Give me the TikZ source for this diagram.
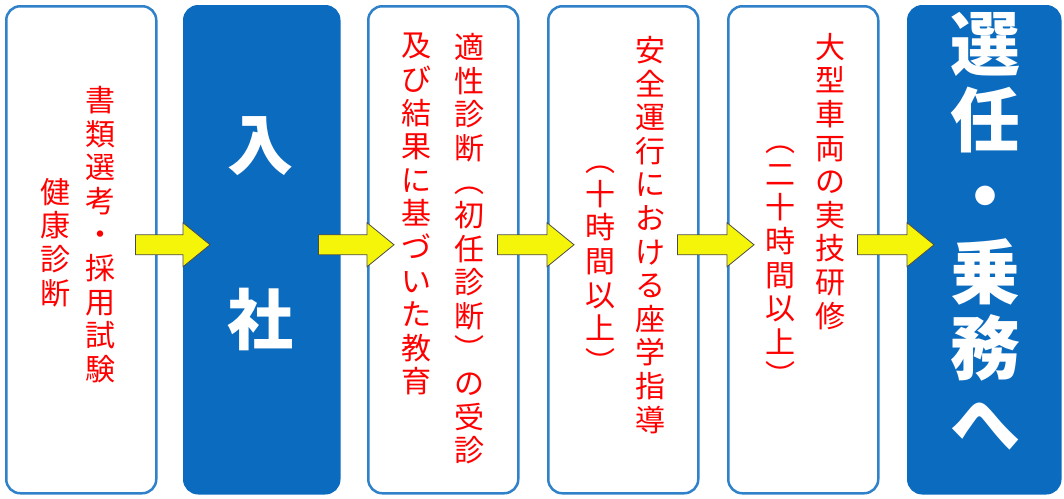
\documentclass[tikz,border=0pt]{standalone}
\usepackage{fontspec}
\setmainfont{Noto Sans CJK JP}
\usetikzlibrary{calc}
\definecolor{stepblue}{HTML}{0A6BBF}
\definecolor{arrowyellow}{HTML}{F5F50A}
\makeatletter
\newcommand\tate[1]{\@tfor\tate@c:=#1\do{\tate@c\\}}
\makeatother
\tikzset{
  stepbox/.style={draw=stepblue!85!white, line width=2.5pt, rounded corners=14pt,
    minimum width=150pt, minimum height=487pt, anchor=north west, fill=white},
  finalbox/.style={stepbox, fill=stepblue, draw=stepblue},
  redcol/.style={text=red, align=center, anchor=north, inner sep=0pt,
    font=\fontsize{30}{33.6}\selectfont},
  bigcol/.style={text=white, align=center, anchor=north, inner sep=0pt}, 
  yellowarrow/.style={fill=arrowyellow, draw=black!70, line width=0.8pt, line join=miter}
}
\begin{document}
\begin{tikzpicture}[x=1pt,y=-1pt]
  \useasboundingbox (0,0) rectangle (1064,498);
  % Boxes
  \node[stepbox]  (b1) at (5,5)   {};
  \node[finalbox, minimum width=155pt] (b2) at (183,5) {};
  \node[stepbox]  (b3) at (367,5) {};
  \node[stepbox]  (b4) at (547,5) {};
  \node[stepbox]  (b5) at (727,5) {};
  \node[finalbox, minimum width=152pt] (b6) at (907,5) {};
  % Texts
  \node[redcol] (t1a) at (100,86)  {\tate{書類選考・採用試験}};
  \node[redcol] (t1b) at (55,178)  {\tate{健康診断}};
  \node[bigcol, font=\fontsize{66}{175}\selectfont\bfseries] (t2) at (260,116) {入\\社};
  \node[redcol] (t3a) at (469,33)  {\tate{適性診断︵初任診断︶の受診}};
  \node[redcol] (t3b) at (416,33)  {\tate{及び結果に基づいた教育}};
  \node[redcol] (t4a) at (650,36)  {\tate{安全運行における座学指導}};
  \node[redcol] (t4b) at (600,166) {\tate{︵十時間以上︶}};
  \node[redcol] (t5a) at (830,33)  {\tate{大型車両の実技研修}};
  \node[redcol] (t5b) at (780,146) {\tate{︵二十時間以上︶}};
  \node[bigcol, font=\fontsize{70}{76}\selectfont\bfseries] (t6) at (985,12) {\tate{選任・乗務へ}};
  % Arrows
  \foreach \a/\b in {b1/b2, b2/b3, b3/b4, b4/b5, b5/b6}{
    \draw[yellowarrow] ($(\a.east)+(-22,-15)$) -- ($(\b.west)+(0,-15)$)
      -- ($(\b.west)+(0,-27)$) -- ($(\b.west)+(27,-5)$) -- ($(\b.west)+(0,17)$)
      -- ($(\b.west)+(0,5)$) -- ($(\a.east)+(-22,5)$) -- cycle;
  }
\end{tikzpicture}
\end{document}
